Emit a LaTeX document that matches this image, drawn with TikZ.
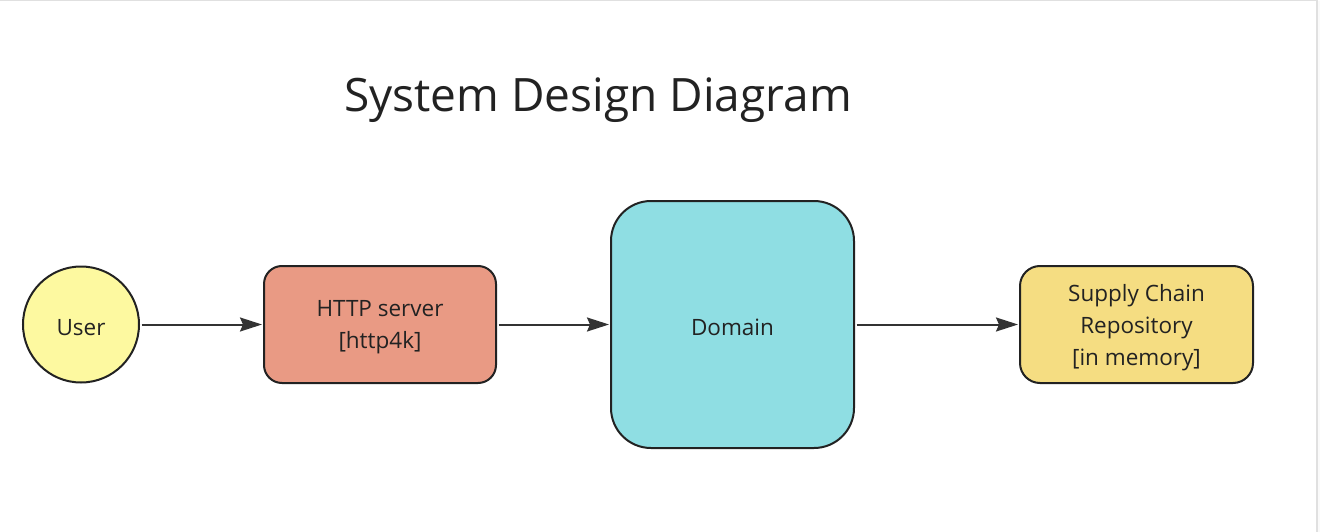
\documentclass[tikz,border=0pt]{standalone}
\usepackage{fontspec}
\setmainfont{Open Sans}
\usetikzlibrary{arrows.meta}
\definecolor{usercol}{HTML}{FDF9A0}
\definecolor{httpcol}{HTML}{E99A84}
\definecolor{domcol}{HTML}{8FDEE3}
\definecolor{repcol}{HTML}{F5DD82}
\definecolor{inkcol}{HTML}{222222}
\definecolor{linecol}{HTML}{333333}
\definecolor{framecol}{HTML}{E0E0E0}
\tikzset{
  box/.style={draw=inkcol, line width=2pt, inner sep=0pt},
  lbl/.style={text=inkcol, align=center, inner sep=0pt, yshift=-3pt,
    font=\fontsize{22.5}{32}\selectfont},
  conn/.style={draw=linecol, line width=2pt, -{Stealth[length=22pt,width=14pt,inset=3pt]}},
}
\begin{document}
\begin{tikzpicture}[x=1pt,y=-1pt]
\useasboundingbox (0,0) rectangle (1320,532);
\fill[white] (0,0) rectangle (1320,532);
\fill[framecol] (0,0) rectangle (1317,1.5);
\fill[framecol] (1316,0) rectangle (1317.5,532);
\fill[black!2] (1317.5,1.5) rectangle (1320,532);
\node[text=inkcol, font=\fontsize{46}{54}\selectfont, anchor=base, inner sep=0pt] (title) at (598,112) {System Design Diagram};
\node[box, circle, fill=usercol, minimum size=116pt, label={[lbl]center:User}] (user) at (81,324.5) {};
\node[box, rectangle, rounded corners=18pt, fill=httpcol, minimum width=232pt, minimum height=117pt, label={[lbl]center:HTTP server\\{[}http4k{]}}] (http) at (380,324.5) {};
\node[box, rectangle, rounded corners=40pt, fill=domcol, minimum width=243pt, minimum height=247pt, label={[lbl]center:Domain}] (dom) at (732.5,324.5) {};
\node[box, rectangle, rounded corners=20pt, fill=repcol, minimum width=233pt, minimum height=117pt, label={[lbl]center:Supply Chain\\Repository\\{[}in memory{]}}] (repo) at (1136.5,324.5) {};
\draw[conn] ([xshift=1.5pt]user.east) -- ([xshift=-1pt]http.west);
\draw[conn] ([xshift=1.5pt]http.east) -- ([xshift=-1pt]dom.west);
\draw[conn] ([xshift=1.5pt]dom.east) -- ([xshift=-1pt]repo.west);
\end{tikzpicture}
\end{document}
